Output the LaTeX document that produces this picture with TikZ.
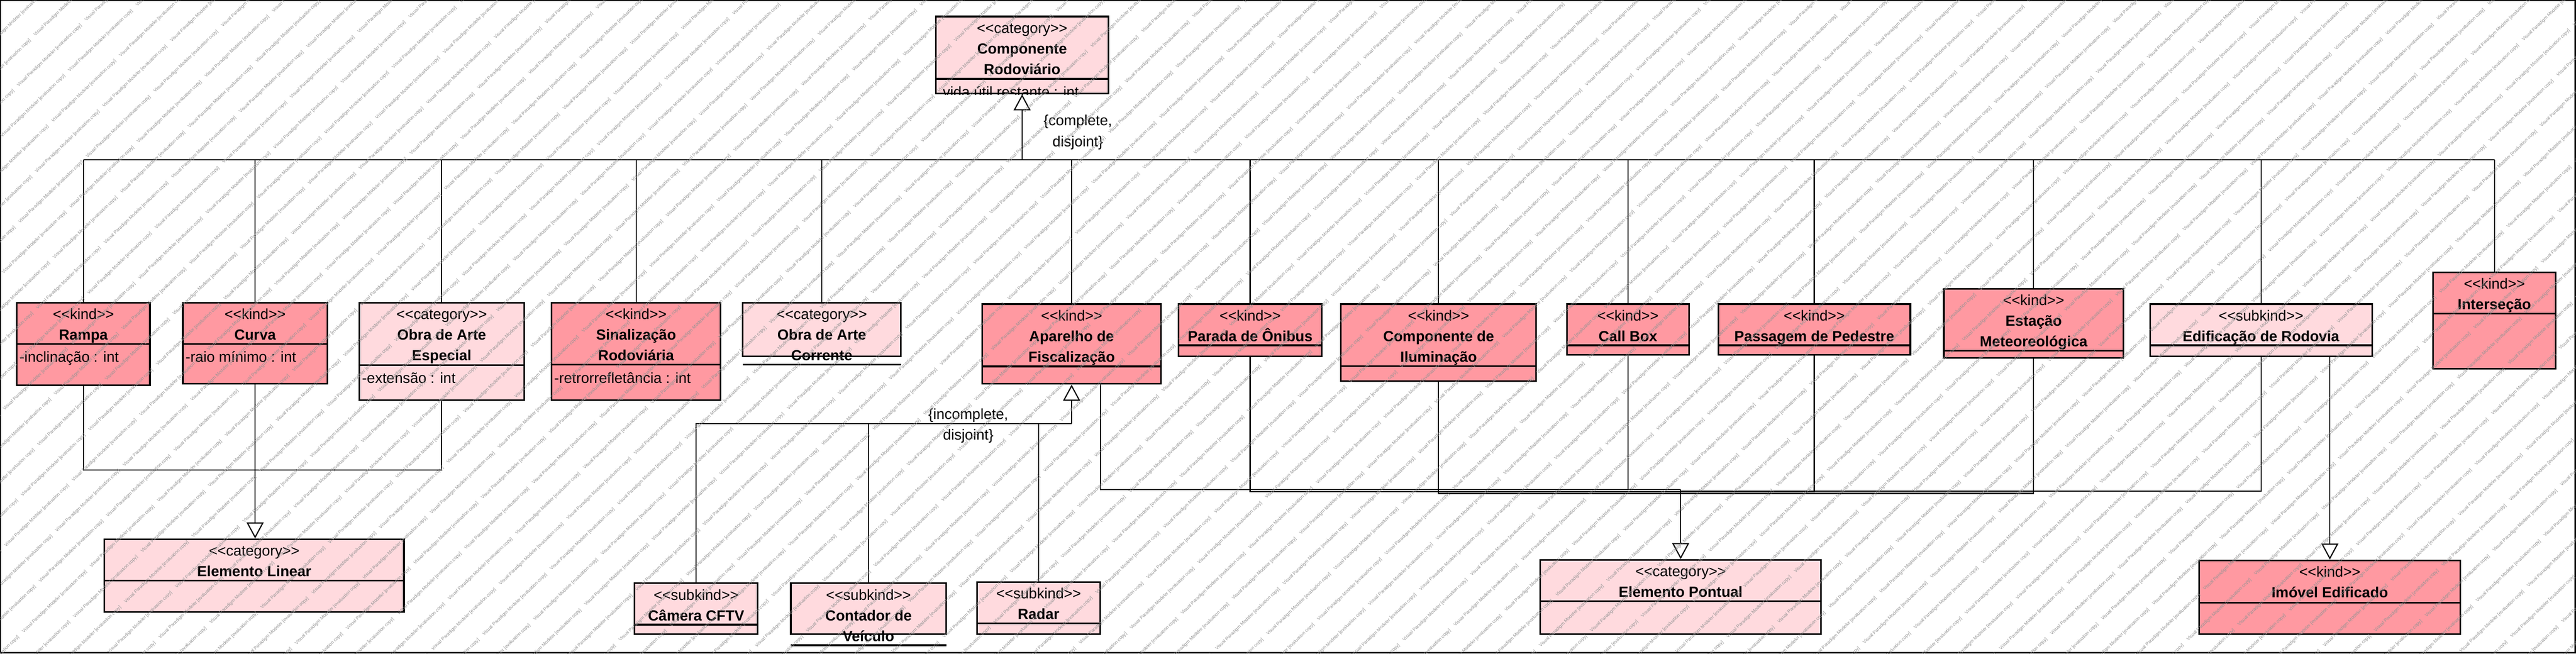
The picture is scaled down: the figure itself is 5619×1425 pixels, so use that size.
\documentclass[tikz,border=0pt]{standalone}
\usepackage{fontspec}
\setmainfont{Liberation Sans}
\usepackage{tikz}
\usetikzlibrary{arrows.meta,fit}
\definecolor{kindred}{RGB}{255,153,161}
\definecolor{catpink}{RGB}{255,218,222}
\newcommand{\stereo}[1]{<\kern0pt<#1>\kern0pt>}
\newcommand{\nm}[1]{\textbf{#1}}
% name, style, left, top, right, separator, bottom, title
\newcommand{\umlclass}[8]{%
  \node[#2, fit={(#3,#4) (#5,#7)}] (#1) {};
  \draw[boxline] (#3,#6) -- (#5,#6);
  \node[title, anchor=north] (#1-t) at ({(#3+#5)/2},{#4+4}) {\strut#8};
}

\begin{document}
\begin{tikzpicture}[x=0.01cm, y=-0.01cm,
    kindbox/.style={draw, fill=kindred, line width=0.035cm, inner sep=0},
    catbox/.style={draw, fill=catpink, line width=0.035cm, inner sep=0},
    boxline/.style={line width=0.035cm},
    title/.style={align=center, inner sep=0, font=\fontsize{9.1pt}{12.8pt}\selectfont},
    attr/.style={inner sep=0, font=\fontsize{9.1pt}{12.8pt}\selectfont},
    link/.style={line width=0.025cm},
    gen/.style={link, -{Triangle[open, length=0.35cm, width=0.37cm]}},
    wmark/.style={anchor=west, rotate=44, inner sep=0, text=black!42,
      font=\fontsize{2.87pt}{3pt}\selectfont}]
   \useasboundingbox (0,0) rectangle (5619,1425);
   \fill[white] (0,0) rectangle (5619,1425);
   \draw[boxline] (1,1) rectangle (5617,1423);

   % top class
   \umlclass{comp}{catbox}{2041}{36}{2418}{172}{204}{\stereo{category}\\\nm{Componente}\\\nm{Rodoviário}}
   \begin{scope}
      \clip (comp.north west) rectangle (comp.south east);
      \node[attr, anchor=base west] (comp-a) at (2056,212) {vida útil restante : int};
   \end{scope}

   % middle row
   \umlclass{rampa}{kindbox}{37}{660}{327}{750}{840}{\stereo{kind}\\\nm{Rampa}}
   \umlclass{curva}{kindbox}{399}{660}{714}{750}{837}{\stereo{kind}\\\nm{Curva}}
   \umlclass{obraesp}{catbox}{784}{660}{1143}{796}{873}{\stereo{category}\\\nm{Obra de Arte}\\\nm{Especial}}
   \umlclass{sinal}{kindbox}{1203}{660}{1572}{795}{873}{\stereo{kind}\\\nm{Sinalização}\\\nm{Rodoviária}}
   \umlclass{obracor}{catbox}{1620}{660}{1965}{795}{777}{\stereo{category}\\\nm{Obra de Arte}\\\nm{Corrente}}
   \umlclass{aparelho}{kindbox}{2143}{663}{2532}{799}{837}{\stereo{kind}\\\nm{Aparelho de}\\\nm{Fiscalização}}
   \umlclass{parada}{kindbox}{2571}{663}{2883}{753}{777}{\stereo{kind}\\\nm{Parada de Ônibus}}
   \umlclass{ilum}{kindbox}{2925}{663}{3351}{798}{831}{\stereo{kind}\\\nm{Componente de}\\\nm{Iluminação}}
   \umlclass{callbox}{kindbox}{3418}{663}{3684}{753}{774}{\stereo{kind}\\\nm{Call Box}}
   \umlclass{passagem}{kindbox}{3748}{663}{4167}{753}{774}{\stereo{kind}\\\nm{Passagem de Pedestre}}
   \umlclass{estacao}{kindbox}{4240}{630}{4632}{765}{780}{\stereo{kind}\\\nm{Estação}\\\nm{Meteoreológica}}
   \umlclass{edif}{catbox}{4690}{663}{5174}{753}{777}{\stereo{subkind}\\\nm{Edificação de Rodovia}}
   \umlclass{inter}{kindbox}{5307}{594}{5575}{684}{804}{\stereo{kind}\\\nm{Interseção}}

   \node[attr, anchor=base west] (rampa-a) at (42,790) {-inclinação : int};
   \node[attr, anchor=base west] (curva-a) at (404,790) {-raio mínimo : int};
   \node[attr, anchor=base west] (obraesp-a) at (789,835) {-extensão : int};
   \node[attr, anchor=base west] (sinal-a) at (1208,835) {-retrorrefletância : int};

   % bottom row
   \umlclass{elin}{catbox}{228}{1176}{881}{1266}{1335}{\stereo{category}\\\nm{Elemento Linear}}
   \umlclass{camera}{catbox}{1384}{1272}{1653}{1362}{1383}{\stereo{subkind}\\\nm{Câmera CFTV}}
   \umlclass{contador}{catbox}{1725}{1272}{2064}{1407}{1383}{\stereo{subkind}\\\nm{Contador de}\\\nm{Veículo}}
   \umlclass{radar}{catbox}{2131}{1269}{2400}{1359}{1383}{\stereo{subkind}\\\nm{Radar}}
   \umlclass{pontual}{catbox}{3360}{1221}{3972}{1311}{1383}{\stereo{category}\\\nm{Elemento Pontual}}
   \umlclass{imovel}{kindbox}{4797}{1222}{5367}{1314}{1383}{\stereo{kind}\\\nm{Imóvel Edificado}}

   % complete, disjoint
   \coordinate (bus) at (comp.south |- 0,348);
   \draw[link] (rampa.north |- bus) -- (inter.north |- bus);
   \foreach \n in {rampa,curva,obraesp,sinal,obracor,aparelho,parada,ilum,callbox,passagem,estacao,edif,inter}
      \draw[link] (\n.north |- bus) -- (\n.north);
   \draw[gen] (bus) -- (comp.south);
   \node[title, anchor=north] (gs-comp) at (2351,242) {\strut\{complete,\\disjoint\}};

   % elemento linear
   \coordinate (linJ) at (curva.south |- 0,1025);
   \draw[link] (rampa.south) |- (linJ);
   \draw[link] (obraesp.south) |- (linJ);
   \draw[gen] (curva.south) -- (curva.south |- elin.north);

   % incomplete, disjoint
   \coordinate (fiscJ) at (aparelho.south |- 0,924);
   \draw[link] (camera.north) |- (fiscJ);
   \draw[link] (contador.north) -- (contador.north |- fiscJ);
   \draw[link] (radar.north) -- (radar.north |- fiscJ);
   \draw[gen] (fiscJ) -- (aparelho.south);
   \node[title, anchor=north] (gs-fisc) at (2112,882) {\strut\{incomplete,\\disjoint\}};

   % elemento pontual
   \coordinate (pontJ) at (pontual.north |- 0,1068);
   \draw[link] ([xshift=0.63cm]aparelho.south) |- (pontJ);
   \draw[link] (parada.south) |- ([yshift=-0.04cm]pontJ);
   \draw[link] (ilum.south) |- ([yshift=-0.08cm]pontJ);
   \draw[link] (callbox.south) |- (pontJ);
   \draw[link] (passagem.south) |- ([yshift=-0.04cm]pontJ);
   \draw[link] (estacao.south) |- ([yshift=-0.08cm]pontJ);
   \draw[link] (edif.south) |- ([yshift=-0.03cm]pontJ);
   \draw[gen] (pontJ) -- (pontual.north);

   % imovel edificado
   \draw[gen] (edif.south -| imovel.north) -- (imovel.north);

   % watermark
   \begin{scope}
      \clip (0,0) rectangle (5619,1425);
      \foreach \r in {0,...,92}
         \foreach \c in {-6,...,20}{
            \pgfmathsetmacro{\ws}{\c*205+mod(\r,2)*102.5}
            \pgfmathsetmacro{\wt}{\r*54}
            \node[wmark] (wm-\r-\c) at ({0.719*\ws+0.695*\wt},{-0.695*\ws+0.719*\wt}) {Visual Paradigm Modeler [evaluation copy]};
         }
   \end{scope}
\end{tikzpicture}
\end{document}
